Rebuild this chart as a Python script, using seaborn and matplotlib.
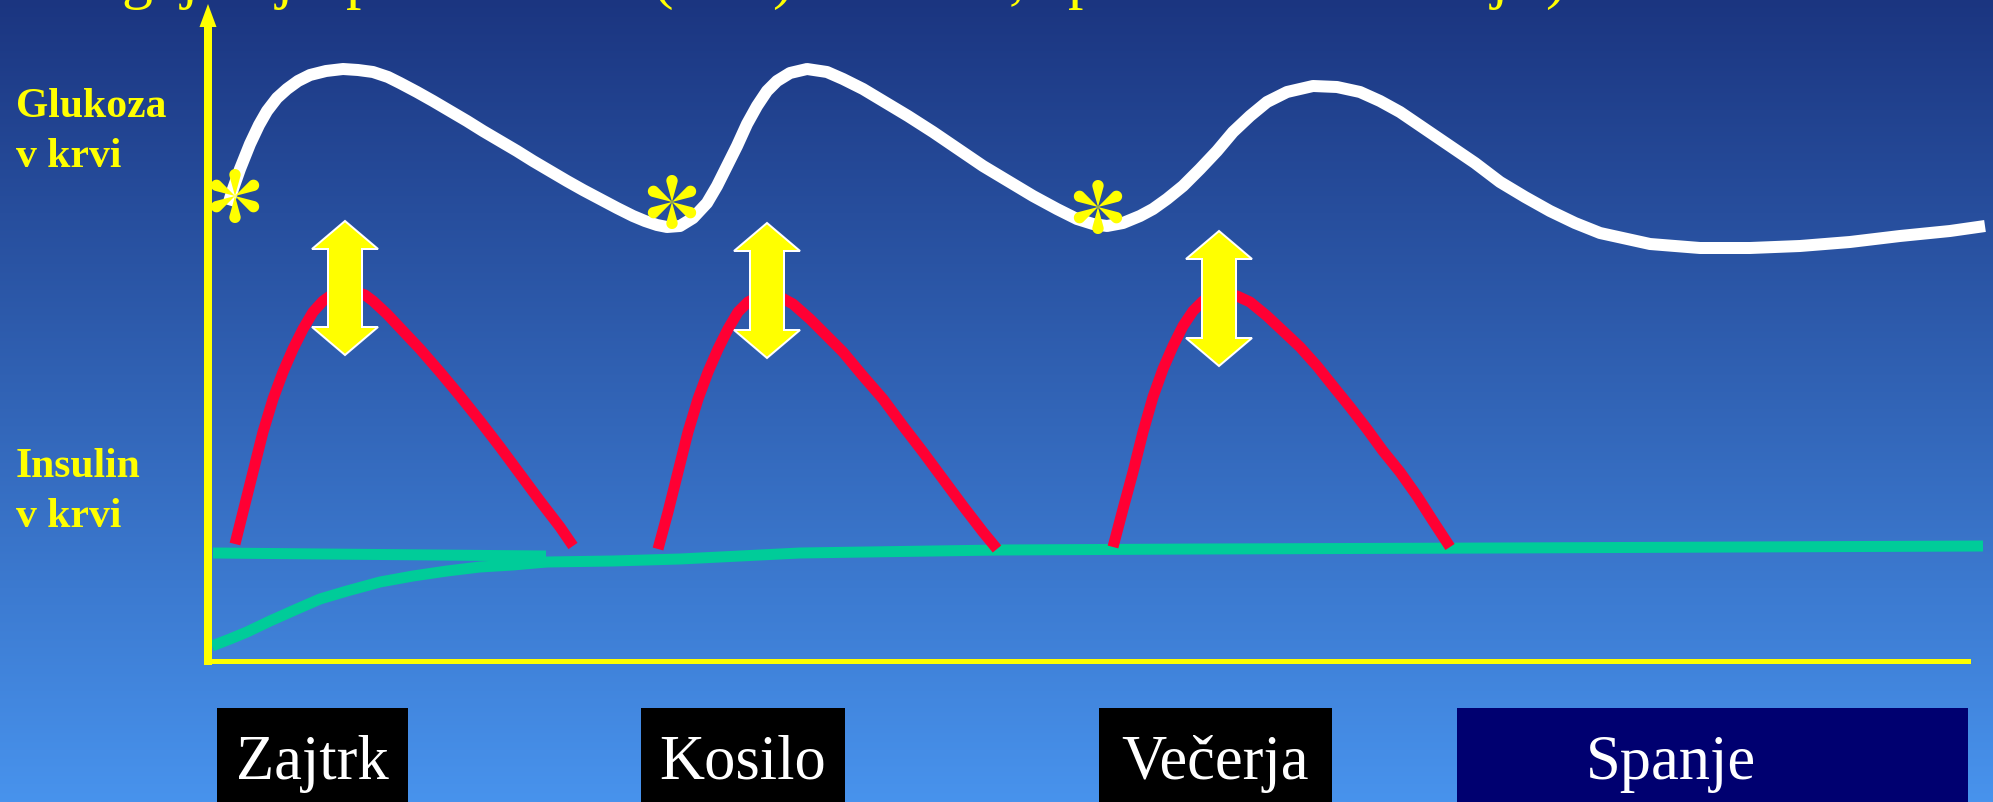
import numpy as np
import pandas as pd
import matplotlib
matplotlib.use("Agg")
import matplotlib.pyplot as plt
from matplotlib.patches import Rectangle, Polygon
from matplotlib.path import Path
import seaborn as sns

# ---------------------------------------------------------------------------
# Data (time runs left to right, level upward; arbitrary schematic units)
# ---------------------------------------------------------------------------
glukoza_cas = [20, 25, 32, 42, 51, 59, 69, 79, 90, 102, 118, 135, 150, 165, 180,
               192, 209, 225, 242, 259, 275, 292, 309, 325, 342, 359, 375, 392,
               409, 425, 437, 449, 459, 472, 485, 499, 509, 519, 529, 539, 549,
               559, 569, 582, 599, 619, 635, 655, 675, 700, 725, 750, 775, 800,
               825, 849, 869, 885, 899, 915, 932, 945, 959, 975, 992, 1009, 1025,
               1042, 1059, 1079, 1105, 1129, 1152, 1172, 1192, 1217, 1242, 1267,
               1292, 1317, 1342, 1367, 1392, 1442, 1492, 1542, 1592, 1642, 1692,
               1742, 1777]
glukoza_raven = [456, 472, 492, 517, 536, 550, 563, 572, 580, 586, 590, 592, 591,
                 589, 584, 578, 569, 560, 550, 540, 530, 520, 510, 500, 490, 480,
                 471, 462, 453, 445, 440, 436, 434, 435, 443, 458, 475, 495, 515,
                 537, 555, 570, 580, 588, 592, 589, 582, 572, 560, 545, 529, 512,
                 495, 480, 465, 452, 442, 437, 435, 438, 445, 452, 462, 475, 492,
                 510, 529, 545, 559, 569, 575, 574, 569, 560, 549, 532, 515, 498,
                 479, 464, 450, 438, 428, 417, 413, 413, 415, 419, 425, 430, 435]

insulin_zajtrk_cas = [27, 35, 45, 55, 65, 75, 85, 95, 105, 115, 125, 135, 149, 157,
                      165, 179, 195, 212, 232, 252, 272, 292, 312, 332, 352, 365]
insulin_zajtrk_raven = [117, 149, 189, 229, 262, 289, 312, 332, 349, 360, 367, 370,
                        369, 366, 360, 347, 330, 312, 289, 265, 240, 214, 187, 160,
                        134, 115]

insulin_kosilo_cas = [450, 460, 470, 480, 490, 500, 510, 520, 530, 540, 550, 559,
                      572, 585, 602, 619, 635, 655, 675, 695, 715, 735, 755, 775, 789]
insulin_kosilo_raven = [112, 149, 189, 229, 262, 289, 312, 332, 349, 359, 364, 365,
                        364, 357, 342, 325, 309, 285, 262, 235, 209, 182, 155, 129, 112]

insulin_vecerja_cas = [905, 915, 925, 935, 945, 955, 965, 975, 985, 995, 1005, 1015,
                       1029, 1042, 1059, 1075, 1092, 1109, 1125, 1142, 1159, 1175,
                       1192, 1209, 1225, 1242]
insulin_vecerja_raven = [114, 152, 189, 229, 264, 292, 315, 335, 350, 360, 366, 368,
                         365, 359, 345, 330, 314, 295, 275, 254, 232, 210, 189, 165,
                         140, 114]

bazal_ravni_cas = [5, 338]
bazal_ravni_raven = [108, 105]

bazal_cas = [4, 22, 39, 62, 89, 112, 139, 172, 205, 239, 272, 305, 339, 405, 472,
             592, 792, 992, 1292, 1775]
bazal_raven = [15, 22, 29, 40, 52, 62, 70, 79, 85, 90, 94, 96, 99, 100, 102,
               108, 111, 112, 113, 115]

obrok_cas = [27, 464, 890]
obrok_raven = [465, 459, 454]

razlika_cas = [137, 559, 1011]
razlika_vrh = [440, 438, 430]
razlika_dno = [306, 303, 295]

oznake_obrokov = ["Zajtrk", "Kosilo", "Večerja", "Spanje"]
oznake_osi = [["Glukoza", "v krvi"], ["Insulin", "v krvi"]]

# ---------------------------------------------------------------------------
W, H, DPI = 1993, 803, 100
PX = 72.0 / DPI  # points per pixel

YELLOW = "#FFFF00"
RED = "#FF0033"
GREEN = "#00CC99"
SERIF = ["Liberation Serif", "DejaVu Serif"]

sns.set_style("white")
plt.rcParams["font.family"] = SERIF


def petal_asterisk(n_petals=6, c=0.79, r=0.21, n_arc=24):
    """Six teardrop petals radiating from the centre (one pointing straight up)."""
    verts, codes = [], []
    phi0 = np.arccos(-r / c)
    arc = np.linspace(phi0, -phi0, n_arc)
    base = np.column_stack([c + r * np.cos(arc), r * np.sin(arc)])
    base = np.vstack([[0.0, 0.0], base, [0.0, 0.0]])
    for k in range(n_petals):
        a = np.pi / 2 + k * 2 * np.pi / n_petals
        rot = np.array([[np.cos(a), -np.sin(a)], [np.sin(a), np.cos(a)]])
        pts = base @ rot.T
        verts.extend(pts.tolist())
        codes.extend([Path.MOVETO] + [Path.LINETO] * (len(pts) - 2) + [Path.CLOSEPOLY])
    return Path(verts, codes)


fig = plt.figure(figsize=(W / DPI, H / DPI), dpi=DPI)

# background canvas with vertical gradient (pixel coordinates)
bg = fig.add_axes([0, 0, 1, 1])
bg.set_xlim(0, W)
bg.set_ylim(H, 0)
bg.axis("off")
top = np.array([27, 53, 128]) / 255.0
bot = np.array([72, 147, 237]) / 255.0
t = np.linspace(0, 1, H)[:, None, None]
grad = top * (1 - t) + bot * t
bg.imshow(grad, extent=[0, W, H, 0], aspect="auto", zorder=0, interpolation="bilinear")

# title line running off the top edge (only descenders remain visible)
title_bits = [(121, "g"), (181, "j"), (276, "j"), (346, "p"), (652, "("), (772, ")"),
              (1009, ","), (1068, "p"), (1491, "j"), (1545, ")")]
for xp, ch in title_bits:
    bg.text(xp, -3.5, ch, color=YELLOW, fontsize=44.6, family=SERIF,
            ha="left", va="baseline", clip_on=False, zorder=2)

# axis labels on the left
for (l1, l2), yb in zip(oznake_osi, [116.7, 476.7]):
    bg.text(16, yb, l1, color=YELLOW, fontsize=30, fontweight="bold", family=SERIF,
            ha="left", va="baseline", zorder=2)
    bg.text(16, yb + 50, l2, color=YELLOW, fontsize=30, fontweight="bold", family=SERIF,
            ha="left", va="baseline", zorder=2)

# meal / sleep boxes along the bottom
boxes = [(217, 408, "black", 312.5), (641, 845, "black", 743),
         (1099, 1332, "black", 1215.5), (1457, 1968, "#000070", 1671)]
for (x0, x1, fc, xc), lab in zip(boxes, oznake_obrokov):
    bg.add_patch(Rectangle((x0, 709), x1 - x0, H - 709 + 5, facecolor=fc,
                           edgecolor="none", zorder=2))
    bg.text(xc, 779, lab, color="white", fontsize=45, family=SERIF,
            ha="center", va="baseline", zorder=3)

# arrow head on the vertical axis
bg.add_patch(Polygon([(199.5, 28), (216.5, 28), (208, 5)], closed=True,
                     facecolor=YELLOW, edgecolor="none", zorder=3))

# ---------------------------------------------------------------------------
# Plot axes: origin at the corner of the yellow axes
ax = fig.add_axes([208 / W, (H - 662) / H, (1968 - 208) / W, (662 - 28) / H])
ax.set_xlim(0, 1760)
ax.set_ylim(0, 634)
ax.patch.set_alpha(0)
ax.set_xticks([])
ax.set_yticks([])
for s in ("top", "right"):
    ax.spines[s].set_visible(False)
ax.spines["left"].set_color(YELLOW)
ax.spines["left"].set_linewidth(8 * PX)
ax.spines["bottom"].set_color(YELLOW)
ax.spines["bottom"].set_linewidth(5 * PX)
ax.spines["left"].set_zorder(5)
ax.spines["bottom"].set_zorder(5)

common = dict(ax=ax, sort=False, estimator=None, legend=False, clip_on=False)

# basal insulin
sns.lineplot(x=bazal_ravni_cas, y=bazal_ravni_raven, color=GREEN, lw=11 * PX,
             solid_capstyle="butt", zorder=3, **common)
sns.lineplot(x=bazal_cas, y=bazal_raven, color=GREEN, lw=11 * PX,
             solid_capstyle="butt", solid_joinstyle="round", zorder=3, **common)

# prandial insulin responses
for xs, ys in [(insulin_zajtrk_cas, insulin_zajtrk_raven),
               (insulin_kosilo_cas, insulin_kosilo_raven),
               (insulin_vecerja_cas, insulin_vecerja_raven)]:
    sns.lineplot(x=xs, y=ys, color=RED, lw=11 * PX, solid_capstyle="butt",
                 solid_joinstyle="round", zorder=4, **common)

# blood glucose
sns.lineplot(x=glukoza_cas, y=glukoza_raven, color="white", lw=12 * PX,
             solid_capstyle="butt", solid_joinstyle="round", zorder=4, **common)

# double-headed arrows between insulin peak and glucose
HEAD_H, HEAD_HW, SHAFT_HW = 28, 33, 17
for xc, yt, yb in zip(razlika_cas, razlika_vrh, razlika_dno):
    verts = [(xc, yt), (xc + HEAD_HW, yt - HEAD_H), (xc + SHAFT_HW, yt - HEAD_H),
             (xc + SHAFT_HW, yb + HEAD_H), (xc + HEAD_HW, yb + HEAD_H), (xc, yb),
             (xc - HEAD_HW, yb + HEAD_H), (xc - SHAFT_HW, yb + HEAD_H),
             (xc - SHAFT_HW, yt - HEAD_H), (xc - HEAD_HW, yt - HEAD_H)]
    ax.add_patch(Polygon(verts, closed=True, facecolor=YELLOW, edgecolor="white",
                         lw=2 * PX, zorder=6, clip_on=False))

# meal markers on the glucose curve
marker_px = 54
sns.scatterplot(x=obrok_cas, y=obrok_raven, ax=ax, marker=petal_asterisk(),
                s=(marker_px * PX) ** 2, color=YELLOW, edgecolor="none",
                linewidth=0, zorder=7, clip_on=False, legend=False)

fig.savefig("out.png", dpi=DPI)
